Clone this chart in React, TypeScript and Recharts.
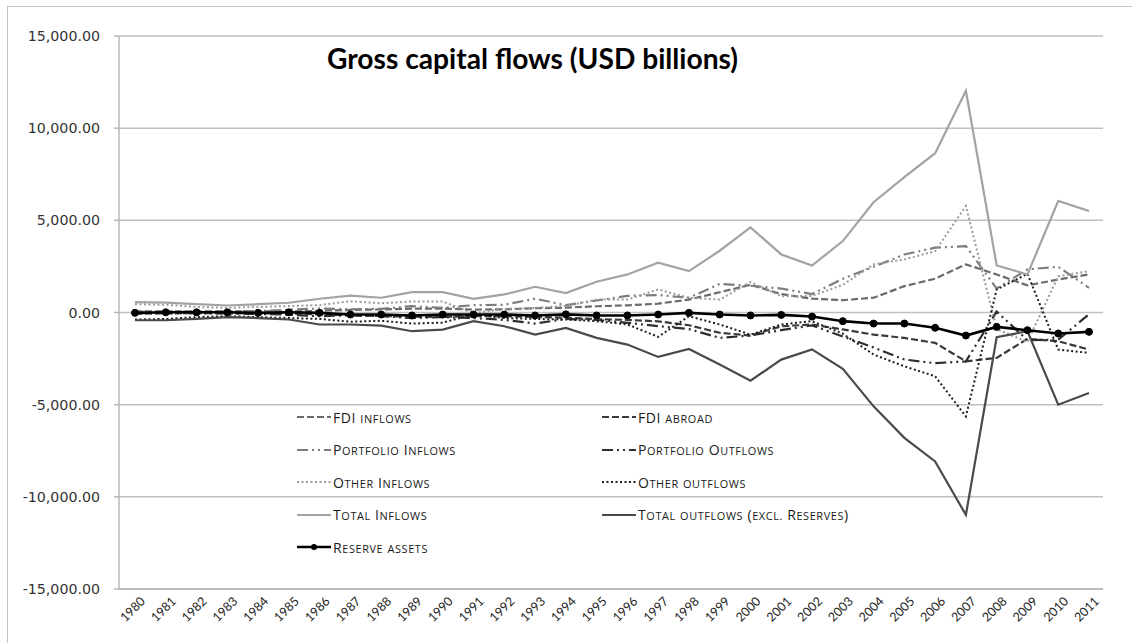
import { CartesianGrid, Line, LineChart, XAxis, YAxis } from 'recharts'

const years = [
  1980, 1981, 1982, 1983, 1984, 1985, 1986, 1987, 1988, 1989, 1990, 1991, 1992, 1993, 1994, 1995,
  1996, 1997, 1998, 1999, 2000, 2001, 2002, 2003, 2004, 2005, 2006, 2007, 2008, 2009, 2010, 2011,
]

const fdiInflows = [
  60, 70, 60, 55, 65, 60, 90, 140, 170, 210, 210, 160, 170, 230, 260, 340, 390, 480, 700, 1100,
  1500, 1000, 750, 670, 800, 1430, 1830, 2610, 2065, 1470, 1790, 2065,
]
const fdiAbroad = [
  -60, -50, -30, -40, -50, -60, -100, -150, -190, -230, -240, -200, -200, -240, -280, -360, -400,
  -480, -690, -1100, -1250, -750, -650, -920, -1200, -1380, -1650, -2650, -2460, -1430, -1560, -2010,
]
const portfolioInflows = [
  30, 40, 50, 60, 80, 150, 220, 170, 200, 350, 250, 400, 420, 750, 400, 650, 900, 950, 800, 1550,
  1450, 1300, 1000, 1830, 2480, 3150, 3515, 3600, 1300, 2340, 2480, 1340,
]
const portfolioOutflows = [
  -30, -30, -40, -50, -80, -120, -200, -150, -200, -300, -250, -300, -400, -600, -350, -400, -560,
  -740, -900, -1375, -1250, -960, -700, -1300, -1900, -2550, -2750, -2650, 50, -1500, -1470, -100,
]
const otherInflows = [
  450, 420, 300, 250, 300, 350, 400, 615, 500, 600, 600, -50, 200, 250, 350, 700, 700, 1250, 800,
  700, 1650, 885, 900, 1500, 2610, 2880, 3330, 5780, -900, -1600, 1970, 2245,
]
const otherOutflows = [
  -380, -350, -250, -200, -250, -300, -350, -500, -450, -600, -550, -100, -300, -350, -380, -470,
  -650, -1320, -200, -650, -1200, -650, -470, -1150, -2280, -2920, -3460, -5640, 1250, 2100, -2010,
  -2190,
]
const totalInflows = [
  560, 540, 450, 380, 450, 530, 745, 920, 800, 1100, 1100, 745, 980, 1395, 1050, 1670, 2065, 2700,
  2245, 3350, 4620, 3150, 2550, 3875, 5980, 7340, 8640, 12030, 2550, 2065, 6050, 5505,
]
const totalOutflows = [
  -420, -420, -350, -250, -300, -380, -650, -650, -710, -1015, -925, -470, -745, -1195, -835, -1375,
  -1740, -2410, -1975, -2825, -3700, -2555, -2000, -3060, -5090, -6800, -8080, -10980, -1340, -1015,
  -5000, -4365,
]
const reserveAssets = [
  -20, 10, 10, 10, -20, 10, -20, -110, -110, -160, -110, -110, -110, -160, -100, -160, -160, -110,
  -20, -110, -160, -130, -220, -470, -600, -600, -830, -1250, -780, -960, -1140, -1050,
]

const yTicks = [-15000, -10000, -5000, 0, 5000, 10000, 15000]

const data = years.map((year, i) => ({
  year: String(year),
  fdiIn: fdiInflows[i],
  fdiOut: fdiAbroad[i],
  portIn: portfolioInflows[i],
  portOut: portfolioOutflows[i],
  otherIn: otherInflows[i],
  otherOut: otherOutflows[i],
  totalIn: totalInflows[i],
  totalOut: totalOutflows[i],
  reserves: reserveAssets[i],
}))

const DASH = '7 3'
const DASH_DOT = '11 4 2 4 2 4'
const DOT = '2 2.5'

// one entry per series: line + legend sample share the same style
const series = [
  { key: 'fdiIn', label: 'FDI inflows', color: '#6b6b6b', dash: DASH, width: 2.2 },
  { key: 'fdiOut', label: 'FDI abroad', color: '#3a3a3a', dash: DASH, width: 2.2 },
  { key: 'portIn', label: 'Portfolio Inflows', color: '#7d7d7d', dash: DASH_DOT, width: 2.2 },
  { key: 'portOut', label: 'Portfolio Outflows', color: '#2e2e2e', dash: DASH_DOT, width: 2.2 },
  { key: 'otherIn', label: 'Other Inflows', color: '#9a9a9a', dash: DOT, width: 2 },
  { key: 'otherOut', label: 'Other outflows', color: '#1e1e1e', dash: DOT, width: 2 },
  { key: 'totalIn', label: 'Total Inflows', color: '#a3a3a3', dash: undefined, width: 2.2 },
  { key: 'totalOut', label: 'Total outflows (excl. Reserves)', color: '#4a4a4a', dash: undefined, width: 2.2 },
  { key: 'reserves', label: 'Reserve assets', color: '#000000', dash: undefined, width: 2.6 },
]

const fmt = (v: number) =>
  v.toLocaleString('en-US', { minimumFractionDigits: 2, maximumFractionDigits: 2 })

function YearTick({ x, y, payload }: { x: number; y: number; payload: { value: string } }) {
  return (
    <text
      transform={`translate(${x + 11},${y + 5}) rotate(-45)`}
      textAnchor="end"
      fontSize={12.5}
      fontFamily="Lato, sans-serif"
      fill="#222"
    >
      {payload.value}
    </text>
  )
}

// small caps like the original: lowercase letters drawn as smaller capitals
function SmallCaps({ text }: { text: string }) {
  const parts = text.match(/[a-z.]+|[^a-z.]+/g) || []
  return (
    <span style={{ whiteSpace: 'nowrap' }}>
      {parts.map((p, i) =>
        /[a-z]/.test(p) ? (
          <span key={i} style={{ fontSize: '0.78em' }}>
            {p.toUpperCase()}
          </span>
        ) : (
          <span key={i}>{p}</span>
        ),
      )}
    </span>
  )
}

function LegendSample({ s }: { s: (typeof series)[0] }) {
  return (
    <svg width={34} height={10} style={{ display: 'block', flexShrink: 0 }}>
      <line
        x1={0}
        y1={5}
        x2={34}
        y2={5}
        stroke={s.color}
        strokeWidth={s.width}
        strokeDasharray={s.dash}
      />
      {s.key === 'reserves' && <circle cx={17} cy={5} r={3} fill="#000" />}
    </svg>
  )
}

export default function App() {
  return (
    <div
      style={{
        position: 'absolute',
        left: 0,
        top: 0,
        width: 1132,
        height: 643,
        background: '#fff',
        overflow: 'hidden',
      }}
    >
      <div
        style={{
          position: 'absolute',
          left: 7,
          top: 6,
          width: 1140,
          height: 650,
          borderLeft: '1px solid #c4c4c4',
          borderTop: '1px solid #c4c4c4',
        }}
      />
      <LineChart
        width={1132}
        height={643}
        data={data}
        margin={{ top: 36, right: 29, bottom: 4, left: 8 }}
        style={{ position: 'absolute', left: 0, top: 0 }}
      >
        <CartesianGrid vertical={false} stroke="#c0c0c0" strokeWidth={1.5} />
        <XAxis
          dataKey="year"
          height={50}
          padding={{ left: 16, right: 14 }}
          interval={0}
          tickLine={false}
          axisLine={{ stroke: '#b8b8b8', strokeWidth: 1.5 }}
          tick={YearTick}
        />
        <YAxis
          width={111}
          domain={[-15000, 15000]}
          ticks={yTicks}
          tickFormatter={fmt}
          tickSize={5}
          tickMargin={14}
          axisLine={{ stroke: '#b8b8b8', strokeWidth: 1.5 }}
          tickLine={{ stroke: '#b8b8b8', strokeWidth: 1.5 }}
          tick={{ fill: '#333', fontSize: 14.2, fontFamily: 'DejaVu Sans, sans-serif' }}
        />
        {series.map((s) => (
          <Line
            key={s.key}
            type="linear"
            dataKey={s.key}
            stroke={s.color}
            strokeWidth={s.width}
            strokeDasharray={s.dash}
            dot={s.key === 'reserves' ? { r: 3.5, fill: '#000', stroke: '#000', strokeWidth: 1 } : false}
            activeDot={false}
            isAnimationActive={false}
          />
        ))}
      </LineChart>

      <div
        style={{
          position: 'absolute',
          left: 327,
          top: 41,
          fontFamily: 'Lato, sans-serif',
          fontWeight: 700,
          fontSize: 28.2,
          color: '#000',
          whiteSpace: 'nowrap',
        }}
      >
        Gross capital flows (USD billions)
      </div>

      <div
        style={{
          position: 'absolute',
          left: 297,
          top: 407,
          width: 620,
          display: 'grid',
          gridTemplateColumns: '305px 315px',
          gridAutoRows: '32.5px',
          fontFamily: '"Open Sans", sans-serif',
          fontSize: 14,
          letterSpacing: 0.6,
          color: '#1a1a1a',
        }}
      >
        {series.map((s) => (
          <div key={s.key} style={{ display: 'flex', alignItems: 'center', gap: 2, height: 20 }}>
            <LegendSample s={s} />
            <SmallCaps text={s.label} />
          </div>
        ))}
      </div>
    </div>
  )
}
